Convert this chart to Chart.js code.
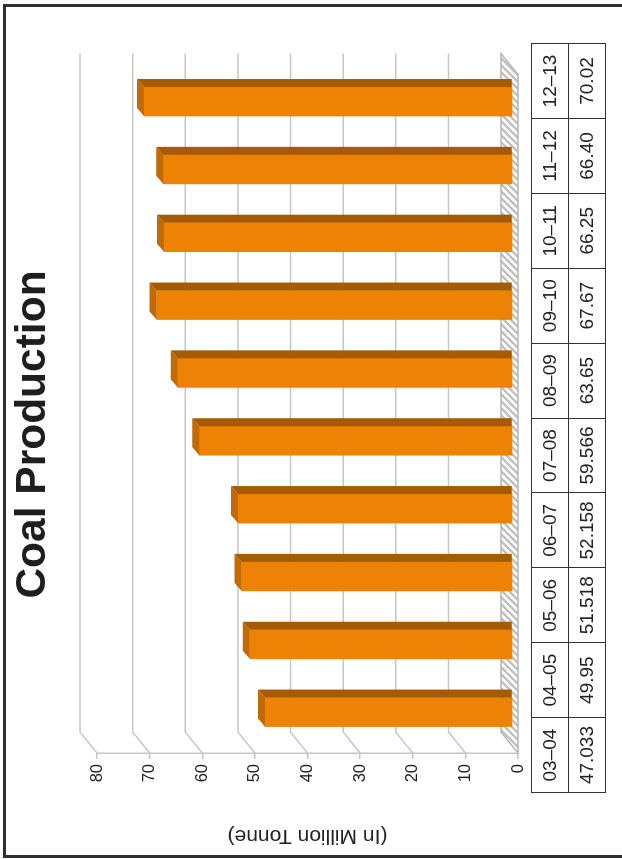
<!DOCTYPE html>
<html>
<head>
<meta charset="utf-8">
<script src="https://cdn.jsdelivr.net/npm/chart.js@4.4.0/dist/chart.umd.min.js"></script>
<style>
  html, body { margin: 0; padding: 0; background: #fff; overflow: hidden; }
  body { width: 622px; height: 859px; position: relative; }
  /* the sheet is laid out landscape and turned a quarter to the left */
  #sheet { position: absolute; left: 0; top: 0; width: 859px; height: 622px;
           transform-origin: 0 0; transform: translate(0px, 859px) rotate(-90deg); }
  #frame { position: absolute; left: 1px; top: 3px; width: 848px; height: 700px;
           border: 3px solid #2e2e2e; }
  #chart { position: absolute; left: 0; top: 0; }
  #data { position: absolute; left: 66px; top: 531px; width: 750px;
          border-collapse: collapse; table-layout: fixed; background: #fff;
          font-family: "Liberation Sans Narrow", "Arial Narrow", "Liberation Sans", sans-serif;
          font-size: 19px; color: #222; }
  #data td { border: 1.5px solid #333; height: 37px; padding: 0; text-align: center; box-sizing: border-box; }
</style>
</head>
<body>
<div id="sheet">
  <div id="frame"></div>
  <canvas id="chart" width="859" height="622"></canvas>
  <table id="data"><tbody><tr id="rowYears"></tr><tr id="rowValues"></tr></tbody></table>
</div>
<script>
const years = ['03–04', '04–05', '05–06', '06–07', '07–08', '08–09', '09–10', '10–11', '11–12', '12–13'];
const production = [47.033, 49.95, 51.518, 52.158, 59.566, 63.65, 67.67, 66.25, 66.40, 70.02];
const productionLabels = ['47.033', '49.95', '51.518', '52.158', '59.566', '63.65', '67.67', '66.25', '66.40', '70.02'];
const valueMin = 0;
const valueMax = 80;
const valueStep = 10;

const NARROW = "'Liberation Sans Narrow', 'Arial Narrow', 'Liberation Sans', sans-serif";
const SANS = "'Liberation Sans', Arial, sans-serif";

const DEPTH = { x: 21, y: -17 };      // front edge -> back wall
const BAR_SHIFT = { x: 7, y: -5.4 };  // bars stand a bit behind the front edge
const BAR_DEPTH = { x: 8, y: -7 };

// data table under the plot
years.forEach((yr, i) => {
    const a = document.createElement('td');
    a.textContent = yr;
    document.getElementById('rowYears').appendChild(a);
    const b = document.createElement('td');
    b.textContent = productionLabels[i];
    document.getElementById('rowValues').appendChild(b);
});

function poly(ctx, pts, fill) {
    ctx.beginPath();
    ctx.moveTo(pts[0][0], pts[0][1]);
    for (let i = 1; i < pts.length; i++) ctx.lineTo(pts[i][0], pts[i][1]);
    ctx.closePath();
    ctx.fillStyle = fill;
    ctx.fill();
}

function floorPattern(ctx) {
    const c = document.createElement('canvas');
    c.width = 7; c.height = 7;
    const p = c.getContext('2d');
    p.fillStyle = '#fafafa';
    p.fillRect(0, 0, 7, 7);
    p.strokeStyle = '#bdbdbd';
    p.lineWidth = 2.2;
    p.beginPath();
    p.moveTo(-1, 8); p.lineTo(8, -1);
    p.moveTo(-4, 4); p.lineTo(4, -4);
    p.moveTo(3, 11); p.lineTo(11, 3);
    p.stroke();
    return ctx.createPattern(c, 'repeat');
}

const wallPlugin = {
    id: 'wall',
    beforeDatasetsDraw(chart) {
        const { ctx, chartArea: a, scales: { y } } = chart;
        const y0 = y.getPixelForValue(0);
        ctx.save();
        // floor
        poly(ctx, [[a.left, y0], [a.right, y0], [a.right + DEPTH.x, y0 + DEPTH.y], [a.left + DEPTH.x, y0 + DEPTH.y]], floorPattern(ctx));
        ctx.strokeStyle = '#b5b5b5';
        ctx.lineWidth = 1.5;
        ctx.stroke();
        // gridlines on side wall and back wall
        ctx.strokeStyle = '#c6c6c6';
        ctx.lineWidth = 1.5;
        y.ticks.forEach(t => {
            if (t.value === 0) return;
            const py = y.getPixelForValue(t.value);
            ctx.beginPath();
            ctx.moveTo(a.left, py);
            ctx.lineTo(a.left + DEPTH.x, py + DEPTH.y);
            ctx.lineTo(a.right + DEPTH.x, py + DEPTH.y);
            ctx.stroke();
        });
        ctx.restore();
        ctx.save();
        ctx.translate(BAR_SHIFT.x, BAR_SHIFT.y);
    },
    afterDatasetsDraw(chart) {
        const ctx = chart.ctx;
        chart.getDatasetMeta(0).data.forEach(bar => {
            const { x, y, base, width } = bar.getProps(['x', 'y', 'base', 'width'], true);
            const l = x - width / 2, r = x + width / 2;
            poly(ctx, [[l, y], [r, y], [r + BAR_DEPTH.x, y + BAR_DEPTH.y], [l + BAR_DEPTH.x, y + BAR_DEPTH.y]], '#c46a02');
            poly(ctx, [[r, y], [r, base], [r + BAR_DEPTH.x, base], [r + BAR_DEPTH.x, y + BAR_DEPTH.y]], '#a65a02');
        });
        ctx.restore();
    }
};

new Chart(document.getElementById('chart'), {
    type: 'bar',
    data: {
        labels: years,
        datasets: [{
            data: production,
            backgroundColor: '#ee8204',
            borderWidth: 0,
            barThickness: 29,
            clip: false
        }]
    },
    options: {
        responsive: false,
        animation: false,
        layout: { padding: { top: 0, left: 0, right: 10, bottom: 104 } },
        plugins: {
            legend: { display: false },
            tooltip: { enabled: false },
            title: {
                display: true,
                text: 'Coal Production',
                color: '#1e1e1e',
                font: { family: SANS, size: 42.5, weight: 'bold' },
                padding: { top: 8, bottom: 38 }
            }
        },
        scales: {
            x: { display: false },
            y: {
                min: valueMin,
                max: valueMax,
                ticks: { stepSize: valueStep, color: '#222', padding: 5, font: { family: NARROW, size: 16.5 } },
                grid: { drawOnChartArea: false, tickLength: 6, color: '#c6c6c6', lineWidth: 1.5 },
                border: { color: '#c6c6c6', width: 1.5 },
                title: {
                    display: true,
                    text: '(In Million Tonne)',
                    color: '#222',
                    font: { family: SANS, size: 21 },
                    padding: { top: 11, bottom: 0 }
                },
                afterFit(scale) { scale.width = 106; }
            },
            yRight: {
                position: 'right',
                grid: { display: false },
                ticks: { display: false },
                border: { display: false },
                afterFit(scale) { scale.width = 64.6; }
            }
        }
    },
    plugins: [wallPlugin]
});
</script>
</body>
</html>
